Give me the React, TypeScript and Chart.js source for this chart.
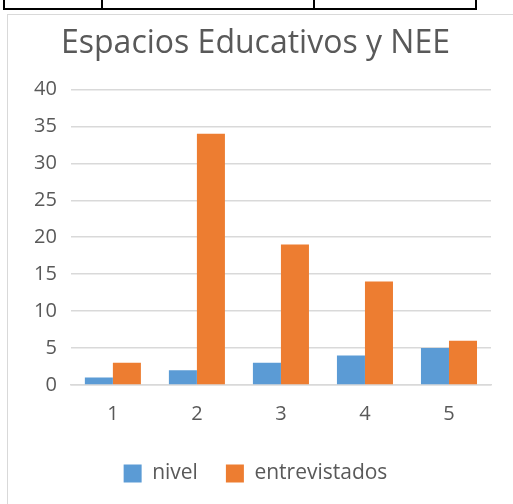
import React, { useEffect, useRef } from "react";
import { Chart, registerables } from "chart.js";

Chart.register(...registerables);

const categories = ["1", "2", "3", "4", "5"];
const nivelValues = [1, 2, 3, 4, 5];
const entrevistadosValues = [3, 34, 19, 14, 6];
const tableCells = ["Total", "70", "100"];

const FONT = "'Open Sans', 'Noto Sans', sans-serif";

export default function App() {
  const ref = useRef<HTMLCanvasElement | null>(null);
  useEffect(() => {
    if (!ref.current) return;
    const chart = new Chart(ref.current, {
      type: "bar",
      data: {
        labels: categories,
        datasets: [
          { label: "nivel", data: nivelValues, backgroundColor: "#5b9bd5", categoryPercentage: 0.667, barPercentage: 1 },
          { label: "entrevistados", data: entrevistadosValues, backgroundColor: "#ed7d31", categoryPercentage: 0.667, barPercentage: 1 },
        ],
      },
      options: {
        animation: false,
        responsive: false,
        layout: { padding: { left: 12, right: 22, top: 10, bottom: 10 } },
        plugins: {
          title: {
            display: true,
            text: "Espacios Educativos y NEE",
            color: "#595959",
            font: { family: FONT, size: 32, weight: "normal" },
            padding: { top: 0, bottom: 26 },
          },
          legend: {
            position: "bottom",
            labels: {
              color: "#595959",
              font: { family: FONT, size: 21 },
              boxWidth: 18,
              boxHeight: 18,
              padding: 28,
            },
          },
          tooltip: { enabled: false },
        },
        scales: {
          x: {
            grid: { display: false },
            border: { display: true, color: "#d9d9d9", width: 1.5 },
            ticks: { color: "#595959", font: { family: FONT, size: 20 }, padding: 9 },
          },
          y: {
            min: 0,
            max: 40,
            ticks: { stepSize: 5, color: "#595959", font: { family: FONT, size: 20 }, padding: 14 },
            grid: { color: "#d9d9d9", lineWidth: 1.5, drawTicks: false },
            border: { display: false },
          },
        },
      },
    });
    return () => chart.destroy();
  }, []);

  const cellText = { lineHeight: "22px", marginTop: -2 } as const;
  return (
    <div style={{ position: "fixed", left: 0, top: 0, width: 513, height: 504, background: "#fff", overflow: "hidden" }}>
      <div style={{ position: "absolute", left: 3, top: -20, width: 474, height: 30, border: "2px solid #000", boxSizing: "border-box", display: "flex", fontFamily: FONT, fontSize: 22, color: "#000" }}>
        <div style={{ width: 88, borderRight: "2px solid #000", paddingLeft: 8 }}><div style={cellText}>{tableCells[0]}</div></div>
        <div style={{ width: 212, borderRight: "2px solid #000", textAlign: "right", paddingRight: 30, boxSizing: "border-box" }}><div style={cellText}>{tableCells[1]}</div></div>
        <div style={{ flex: 1, textAlign: "right", paddingRight: 30 }}><div style={cellText}>{tableCells[2]}</div></div>
      </div>
      <div style={{ position: "absolute", left: 7, top: 14, width: 506, height: 490, borderLeft: "1px solid #d9d9d9", borderTop: "1px solid #d9d9d9", boxSizing: "border-box" }}>
        <canvas ref={ref} width={505} height={489} style={{ display: "block" }} />
      </div>
    </div>
  );
}
